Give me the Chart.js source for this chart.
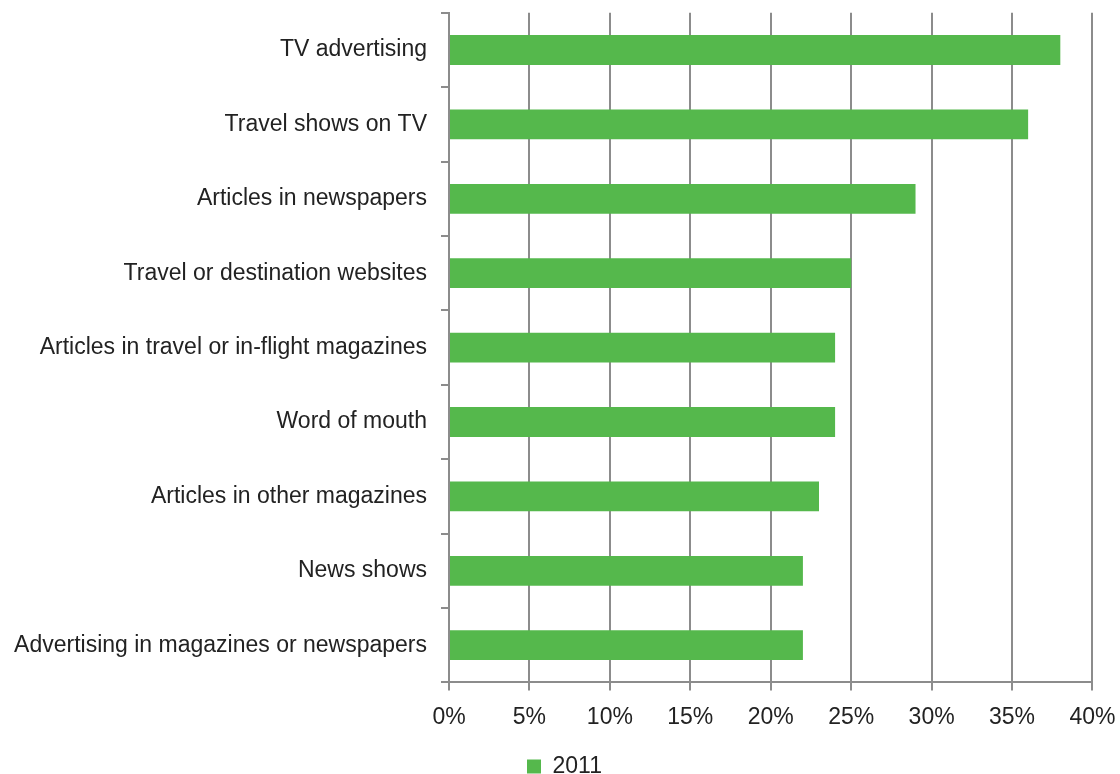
<!DOCTYPE html>
<html>
<head>
<meta charset="utf-8">
<script src="https://cdn.jsdelivr.net/npm/chart.js@4"></script>
<style>
  html, body { margin: 0; padding: 0; background: #fff; overflow: hidden; width: 1120px; height: 774px; }
  #wrap { width: 1129px; height: 803px; margin-top: -15px; }
</style>
</head>
<body>
<div id="wrap"><canvas id="chart"></canvas></div>
<script>
const categories = [
  'TV advertising',
  'Travel shows on TV',
  'Articles in newspapers',
  'Travel or destination websites',
  'Articles in travel or in-flight magazines',
  'Word of mouth',
  'Articles in other magazines',
  'News shows',
  'Advertising in magazines or newspapers'
];
const values2011 = [38, 36, 29, 25, 24, 24, 23, 22, 22];
const seriesName = '2011';

const fontFamily = '"Liberation Sans", "Helvetica Neue", Arial, sans-serif';
const gray = '#8c8c8c';

const ctx = document.getElementById('chart').getContext('2d');
new Chart(ctx, {
  type: 'bar',
  data: {
    labels: categories,
    datasets: [{
      label: seriesName,
      data: values2011,
      backgroundColor: '#55b84c',
      categoryPercentage: 0.8,
      barPercentage: 0.5
    }]
  },
  options: {
    indexAxis: 'y',
    responsive: true,
    maintainAspectRatio: false,
    animation: false,
    layout: { padding: 0 },
    plugins: {
      tooltip: { enabled: false },
      legend: {
        position: 'bottom',
        labels: {
          boxWidth: 14,
          boxHeight: 14,
          padding: 10,
          color: '#222',
          font: { family: fontFamily, size: 23 }
        }
      }
    },
    scales: {
      x: {
        min: 0,
        max: 40,
        ticks: {
          stepSize: 5,
          padding: 13.5,
          color: '#222',
          font: { family: fontFamily, size: 23 },
          callback: v => v + '%'
        },
        grid: { color: gray, lineWidth: 2, tickLength: 8 },
        border: { color: gray, width: 2 }
      },
      y: {
        afterFit: scale => { scale.width = 449; },
        ticks: {
          padding: 14,
          color: '#222',
          font: { family: fontFamily, size: 23 }
        },
        grid: { drawOnChartArea: false, color: gray, lineWidth: 2, tickLength: 8, offset: true },
        border: { color: gray, width: 2 }
      }
    }
  }
});
</script>
</body>
</html>
